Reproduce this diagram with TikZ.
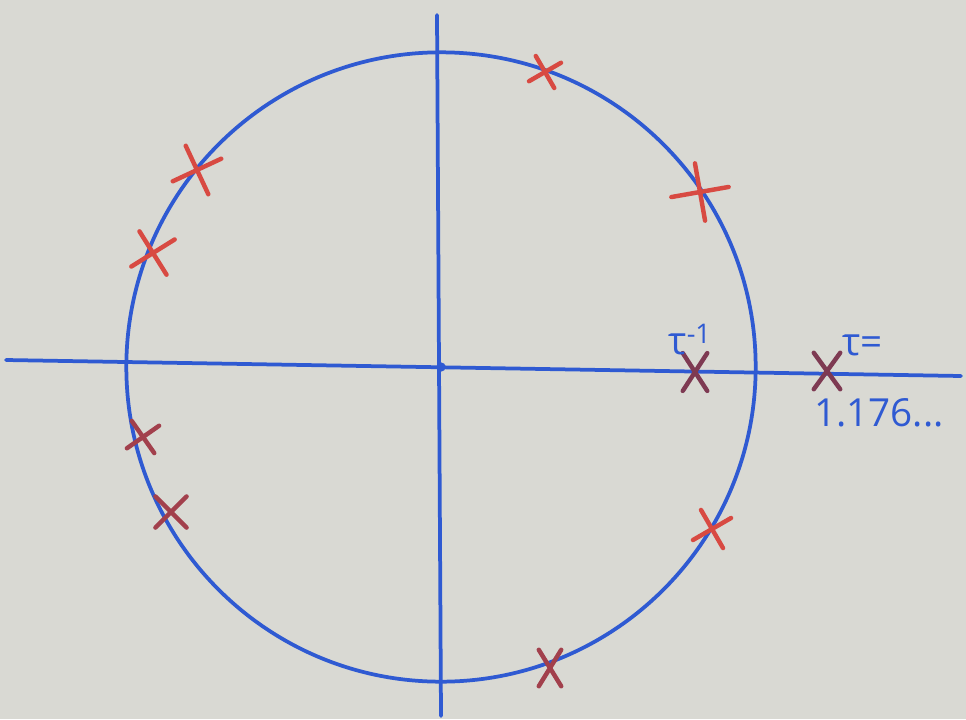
\documentclass[tikz,border=0pt]{standalone}
\usepackage{fontspec}
\usepackage{tikz}
\usetikzlibrary{shapes.misc}
\newfontfamily\labelfont{Open Sans}
\definecolor{cPaper}   {HTML}{D9D9D3}
\definecolor{cInk}     {HTML}{2F5AD2}
\definecolor{cRoot}    {HTML}{D84A42}
\definecolor{cRootDark}{HTML}{A2404C}
\definecolor{cRootDeep}{HTML}{7E3A52}
\tikzset{
  inkline/.style={draw=cInk, line width=3.2pt, line cap=round},
  rootmark/.style={cross out, draw=#1, line width=3.8pt, line cap=round, inner sep=0pt},
  inklabel/.style={text=cInk, inner sep=0pt, font=\labelfont\fontsize{33}{38}\selectfont},
}
\begin{document}
\begin{tikzpicture}[x=0.3mm, y=-0.3mm]
        % paper
        \fill[cPaper] (0,0) rectangle (966,719);
        \useasboundingbox (0,0) rectangle (966,719);
        % axes and unit circle
        \coordinate (o) at (441,367);
        \coordinate (xl) at (6,360);
        \coordinate (xr) at (961,376);
        \coordinate (yt) at (437,15);
        \coordinate (yb) at (441,716);
        \draw[inkline] (xl) -- (xr);
        \draw[inkline] (yt) -- (yb);
        \draw[inkline] (o) circle[radius=94.4mm];
        \fill[cInk] (o) circle[radius=1.4mm];
        % roots on the circle
        \foreach \n/\x/\y/\w/\h/\r/\c in {
            1/545/72/6.5/6.5/-15/cRoot,
            2/700/192/11/11/-35/cRoot,
            3/197/170/10/10/-20/cRoot,
            4/153/253/9.5/9.5/-13/cRoot,
            5/143/437/7/7/-10/cRootDark,
            6/171/512/8/8/0/cRootDark,
            7/712/529/8/8/-15/cRoot,
            8/550/668/5.4/9.6/0/cRootDark}{
          \node[rootmark=\c, minimum width=\w mm, minimum height=\h mm, rotate=\r]
                (r\n) at (\x,\y) {};
        }
        % real roots
        \node[rootmark=cRootDeep, minimum width=6mm, minimum height=10mm] (tinv) at (695,372) {};
        \node[rootmark=cRootDeep, minimum width=6.6mm, minimum height=9.6mm] (tau) at (827,371) {};
        \node[inklabel, anchor=base] (tinvlab) at (690,354) {τ\textsuperscript{-1}};
        \node[inklabel, anchor=base west] (taulab) at (842,355) {τ=};
        \node[inklabel, anchor=base west] (taunum) at (814,426) {1.176...};
      \end{tikzpicture}
\end{document}
